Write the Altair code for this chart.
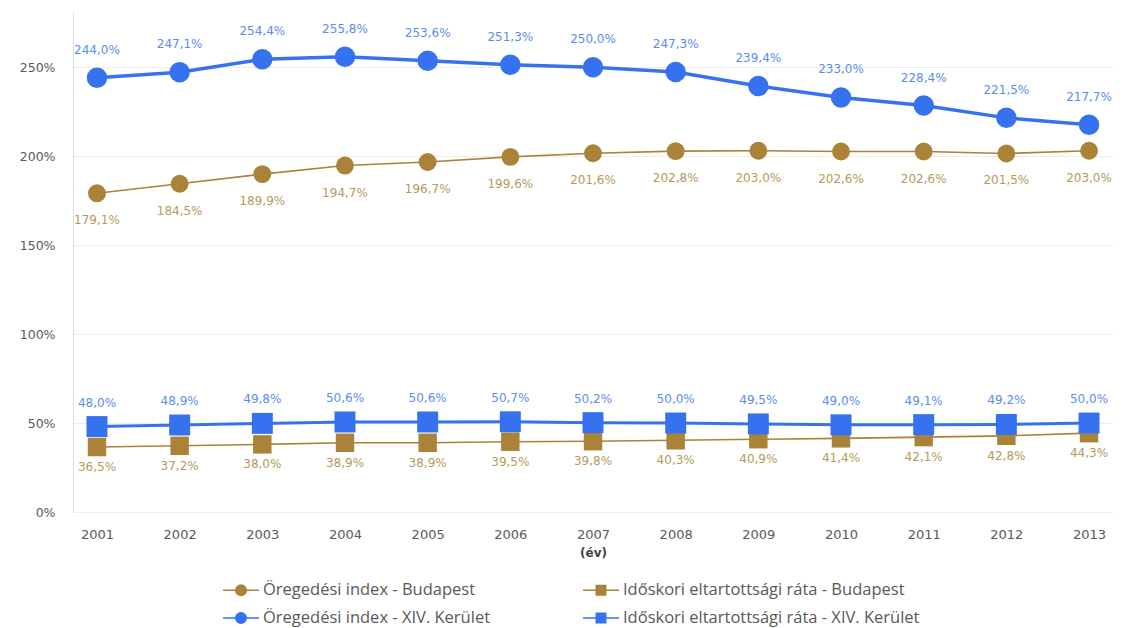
import altair as alt
import pandas as pd

years = ["2001", "2002", "2003", "2004", "2005", "2006", "2007",
         "2008", "2009", "2010", "2011", "2012", "2013"]
oreg_bp = [179.1, 184.5, 189.9, 194.7, 196.7, 199.6, 201.6, 202.8, 203.0, 202.6, 202.6, 201.5, 203.0]
oreg_xiv = [244.0, 247.1, 254.4, 255.8, 253.6, 251.3, 250.0, 247.3, 239.4, 233.0, 228.4, 221.5, 217.7]
rata_bp = [36.5, 37.2, 38.0, 38.9, 38.9, 39.5, 39.8, 40.3, 40.9, 41.4, 42.1, 42.8, 44.3]
rata_xiv = [48.0, 48.9, 49.8, 50.6, 50.6, 50.7, 50.2, 50.0, 49.5, 49.0, 49.1, 49.2, 50.0]

series_names = [
    "Öregedési index - Budapest",
    "Időskori eltartottsági ráta - Budapest",
    "Öregedési index - XIV. Kerület",
    "Időskori eltartottsági ráta - XIV. Kerület",
]
series_values = [oreg_bp, rata_bp, oreg_xiv, rata_xiv]
line_colors = ["#AA8238", "#AA8238", "#3672F0", "#3672F0"]
legend_shapes = [
    "M-2,0H2M-0.58,0A0.58,0.58 0 1,0 0.58,0A0.58,0.58 0 1,0 -0.58,0Z",
    "M-2,0H2M-0.52,-0.52H0.52V0.52H-0.52Z",
    "M-2,0H2M-0.58,0A0.58,0.58 0 1,0 0.58,0A0.58,0.58 0 1,0 -0.58,0Z",
    "M-2,0H2M-0.52,-0.52H0.52V0.52H-0.52Z",
]

rows = []
for name, vals in zip(series_names, series_values):
    for yr, v in zip(years, vals):
        rows.append({"year": yr, "value": v, "series": name,
                     "label": f"{v:.1f}".replace(".", ",") + "%"})
df = pd.DataFrame(rows)

x = alt.X("year:O", sort=years,
          scale=alt.Scale(type="point", padding=0.29),
          axis=alt.Axis(title="(év)", labelAngle=0, labelFont="DejaVu Sans",
                        labelFontSize=13, labelColor="#595959", labelPadding=16,
                        ticks=False, domain=False, grid=False,
                        titleFont="DejaVu Sans", titleFontSize=12, titleFontWeight="bold",
                        titleColor="#404040", titlePadding=6))
y = alt.Y("value:Q",
          scale=alt.Scale(domain=[0, 281], nice=False),
          axis=alt.Axis(title=None, values=[0, 50, 100, 150, 200, 250],
                        labelExpr="datum.value + '%'", labelFont="DejaVu Sans",
                        labelFontSize=12.5, labelColor="#595959", labelPadding=18,
                        ticks=False, domain=True, domainColor="#dddddd",
                        grid=True, gridColor="#eeeeee"))
color = alt.Color("series:N", scale=alt.Scale(domain=series_names, range=line_colors),
                  legend=None)

base = alt.Chart(df).encode(x=x, y=y, color=color)


def sel(name):
    return f"datum.series == '{name}'"


layers = []
# Budapest (brown)
layers.append(base.transform_filter(sel(series_names[0])).mark_line(strokeWidth=1.6))
layers.append(base.transform_filter(sel(series_names[1])).mark_line(strokeWidth=1.6))
layers.append(base.transform_filter(sel(series_names[0])).mark_point(
    filled=True, shape="circle", size=320, opacity=1))
layers.append(base.transform_filter(sel(series_names[1])).mark_point(
    filled=True, shape="square", size=340, opacity=1))
layers.append(alt.Chart(df).transform_filter(sel(series_names[0])).mark_text(
    dy=27, font="DejaVu Sans", fontSize=12, color="#B59A5C").encode(x=x, y=y, text="label:N"))
layers.append(alt.Chart(df).transform_filter(sel(series_names[1])).mark_text(
    dy=20, font="DejaVu Sans", fontSize=12, color="#B59A5C").encode(x=x, y=y, text="label:N"))
# XIV. kerület (blue)
layers.append(base.transform_filter(sel(series_names[2])).mark_line(strokeWidth=3.5))
layers.append(base.transform_filter(sel(series_names[3])).mark_line(strokeWidth=3))
layers.append(base.transform_filter(sel(series_names[2])).mark_point(
    filled=True, shape="circle", size=420, opacity=1))
layers.append(base.transform_filter(sel(series_names[3])).mark_point(
    filled=True, shape="square", size=440, opacity=1))
layers.append(alt.Chart(df).transform_filter(sel(series_names[2])).mark_text(
    dy=-28, font="DejaVu Sans", fontSize=12, color="#5B8DEF").encode(x=x, y=y, text="label:N"))
layers.append(alt.Chart(df).transform_filter(sel(series_names[3])).mark_text(
    dy=-24, font="DejaVu Sans", fontSize=12, color="#5B8DEF").encode(x=x, y=y, text="label:N"))

# legend-carrying layer (its marks have zero size, so nothing visible is drawn)
leg = alt.Legend(title=None, orient="none", legendX=158, legendY=568, columns=2,
                 direction="horizontal", columnPadding=88, rowPadding=9,
                 labelFont="Open Sans", labelFontSize=16.5, labelColor="#595959",
                 labelOffset=12, labelLimit=0, symbolSize=324, symbolStrokeWidth=1.6,
                 symbolOpacity=1)
legend_layer = alt.Chart(df).mark_point(
    filled=True, strokeWidth=0, size=0, opacity=1).encode(
    x=x, y=y,
    fill=alt.Fill("series:N", scale=alt.Scale(domain=series_names, range=line_colors), legend=leg),
    stroke=alt.Stroke("series:N", scale=alt.Scale(domain=series_names, range=line_colors), legend=leg),
    shape=alt.Shape("series:N", scale=alt.Scale(domain=series_names, range=legend_shapes), legend=leg),
)
layers.insert(0, legend_layer)

chart = alt.layer(*layers).properties(
    width=1040, height=500,
    padding={"left": 11, "top": 4, "right": 0, "bottom": 0},
).configure_view(stroke=None)

chart.save("out.html", embed_options={"renderer": "svg", "actions": False})
